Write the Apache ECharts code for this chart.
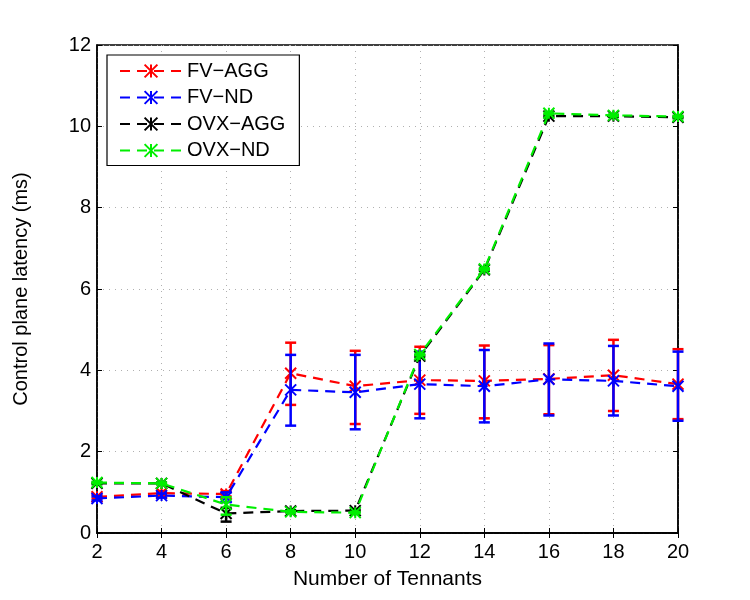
<!DOCTYPE html>
<html>
<head>
<meta charset="utf-8">
<script src="https://cdn.jsdelivr.net/npm/echarts@6/dist/echarts.min.js"></script>
<style>html,body{margin:0;padding:0;background:#fff;}#c{width:750px;height:600px;}</style>
</head>
<body>
<div id="c"></div>
<script>
const tenants = [2, 4, 6, 8, 10, 12, 14, 16, 18, 20];
const xTicks = [2, 4, 6, 8, 10, 12, 14, 16, 18, 20];
const yTicks = [0, 2, 4, 6, 8, 10, 12];

const fvAgg     = [0.89, 0.98, 0.96, 3.93, 3.61, 3.76, 3.74, 3.79, 3.88, 3.66];
const fvAggLow  = [0.85, 0.93, 0.90, 3.15, 2.68, 2.93, 2.82, 2.92, 3.00, 2.80];
const fvAggHigh = [0.93, 1.03, 1.03, 4.68, 4.48, 4.58, 4.61, 4.62, 4.75, 4.52];

const fvNd      = [0.85, 0.92, 0.88, 3.52, 3.46, 3.66, 3.61, 3.78, 3.74, 3.61];
const fvNdLow   = [0.80, 0.87, 0.76, 2.64, 2.55, 2.82, 2.72, 2.89, 2.89, 2.76];
const fvNdHigh  = [0.90, 0.97, 1.00, 4.38, 4.38, 4.46, 4.50, 4.66, 4.60, 4.46];

const ovxAgg     = [1.22, 1.22, 0.48, 0.54, 0.55, 4.35, 6.47, 10.25, 10.25, 10.22];
const ovxAggLow  = [1.20, 1.20, 0.28, 0.52, 0.53, 4.33, 6.45, 10.23, 10.23, 10.20];
const ovxAggHigh = [1.24, 1.24, 0.62, 0.56, 0.57, 4.37, 6.49, 10.27, 10.27, 10.24];

const ovxNd      = [1.24, 1.22, 0.70, 0.52, 0.50, 4.39, 6.49, 10.32, 10.27, 10.24];
const ovxNdLow   = [1.22, 1.20, 0.45, 0.50, 0.48, 4.37, 6.47, 10.30, 10.25, 10.22];
const ovxNdHigh  = [1.26, 1.24, 0.88, 0.54, 0.52, 4.41, 6.51, 10.34, 10.29, 10.26];

const names = ['FV\u2212AGG', 'FV\u2212ND', 'OVX\u2212AGG', 'OVX\u2212ND'];
const colors = ['#ff0000', '#0000ff', '#000000', '#00ee00'];
const vals = [fvAgg, fvNd, ovxAgg, ovxNd];
const lows = [fvAggLow, fvNdLow, ovxAggLow, ovxNdLow];
const highs = [fvAggHigh, fvNdHigh, ovxAggHigh, ovxNdHigh];

const xSym = 'path://M0,0L10,10M10,0L0,10M5,0L5,10';
const FONT = 'Liberation Sans, Arial, Helvetica, sans-serif';

const series = [];
names.forEach((n, i) => {
  series.push({
    name: n,
    type: 'line',
    z: 3 + i * 2,
    data: tenants.map((t, k) => [t, vals[i][k]]),
    symbol: xSym,
    symbolSize: 11,
    showAllSymbol: true,
    color: colors[i],
    lineStyle: { color: colors[i], width: 2.2, type: [10, 7] },
    itemStyle: { color: colors[i], borderColor: colors[i], borderWidth: 2 },
    emphasis: { disabled: true },
    animation: false
  });
  series.push({
    name: n + ' error',
    type: 'custom',
    z: 2 + i * 2,
    silent: true,
    color: colors[i],
    data: tenants.map((t, k) => [t, lows[i][k], highs[i][k]]),
    renderItem: function (params, api) {
      const x = api.value(0);
      const lo = api.coord([x, api.value(1)]);
      const hi = api.coord([x, api.value(2)]);
      const w = 5.5;
      const st = { stroke: colors[i], lineWidth: 2.5, fill: null };
      return {
        type: 'group',
        children: [
          { type: 'line', shape: { x1: lo[0], y1: lo[1], x2: hi[0], y2: hi[1] }, style: st },
          { type: 'line', shape: { x1: lo[0] - w, y1: lo[1], x2: lo[0] + w, y2: lo[1] }, style: st },
          { type: 'line', shape: { x1: hi[0] - w, y1: hi[1], x2: hi[0] + w, y2: hi[1] }, style: st }
        ]
      };
    }
  });
});

const chart = echarts.init(document.getElementById('c'));
chart.setOption({
  animation: false,
  backgroundColor: '#ffffff',
  textStyle: { fontFamily: FONT },
  grid: { left: 97, right: 72, top: 45, bottom: 67, show: true, borderColor: '#000', borderWidth: 1.5, backgroundColor: '#fff' },
  legend: {
    data: names,
    orient: 'vertical',
    left: 107,
    top: 55,
    padding: [6, 14, 5, 12],
    itemGap: 6.5,
    itemWidth: 62,
    itemHeight: 16,
    borderColor: '#000',
    borderWidth: 1.2,
    backgroundColor: '#fff',
    textStyle: { fontSize: 20, color: '#000', fontFamily: FONT },
    selectedMode: false
  },
  xAxis: [{
    type: 'value', min: 2, max: 20, interval: 2,
    name: 'Number of Tennants', nameLocation: 'middle', nameGap: 36,
    nameTextStyle: { fontSize: 21, color: '#000', fontFamily: FONT },
    axisLine: { show: true, onZero: false, lineStyle: { color: '#000', width: 1.5 } },
    axisTick: { show: true, inside: true, length: 5, lineStyle: { color: '#000' } },
    axisLabel: { fontSize: 20, color: '#000', margin: 9, fontFamily: FONT,
      formatter: v => xTicks.includes(v) ? String(v) : '' },
    splitLine: { show: true, lineStyle: { color: '#b0b0b0', type: [1, 5], width: 1 } }
  }, {
    type: 'value', min: 2, max: 20, interval: 2, position: 'top',
    axisLine: { show: true, lineStyle: { color: '#000', width: 1.5 } },
    axisTick: { show: true, inside: true, length: 5, lineStyle: { color: '#000' } },
    axisLabel: { show: false }, splitLine: { show: false }
  }],
  yAxis: [{
    type: 'value', min: 0, max: 12, interval: 2,
    name: 'Control plane latency (ms)', nameLocation: 'middle', nameGap: 66,
    nameTextStyle: { fontSize: 20, color: '#000', fontFamily: FONT },
    axisLine: { show: true, onZero: false, lineStyle: { color: '#000', width: 1.5 } },
    axisTick: { show: true, inside: true, length: 5, lineStyle: { color: '#000' } },
    axisLabel: { fontSize: 20, color: '#000', margin: 6, fontFamily: FONT,
      formatter: v => yTicks.includes(v) ? String(v) : '' },
    splitLine: { show: true, lineStyle: { color: '#b0b0b0', type: [1, 5], width: 1 } }
  }, {
    type: 'value', min: 0, max: 12, interval: 2, position: 'right',
    axisLine: { show: true, lineStyle: { color: '#000', width: 1.5 } },
    axisTick: { show: true, inside: true, length: 5, lineStyle: { color: '#000' } },
    axisLabel: { show: false }, splitLine: { show: false }
  }],
  series: series
});
</script>
</body>
</html>
